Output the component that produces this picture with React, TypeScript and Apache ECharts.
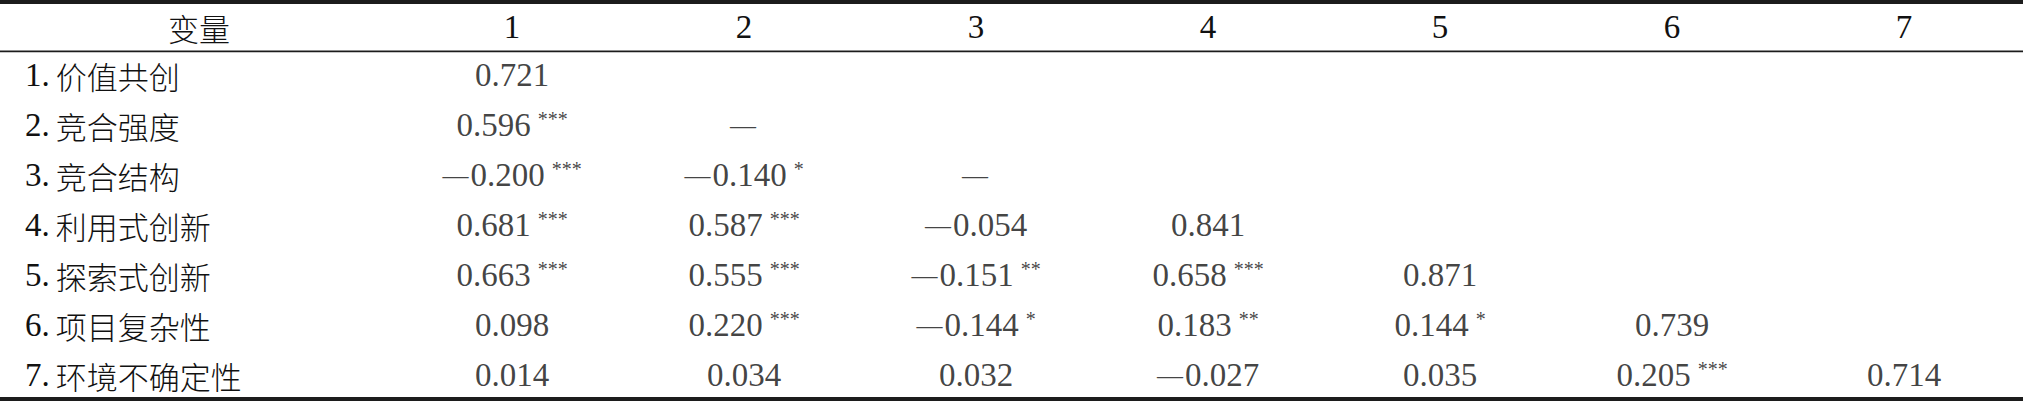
import { useEffect, useRef } from 'react';
import * as echarts from 'echarts';

const columns = ['1', '2', '3', '4', '5', '6', '7'];
const variables = ['价值共创', '竞合强度', '竞合结构', '利用式创新', '探索式创新', '项目复杂性', '环境不确定性'];

// correlation matrix, lower triangle (null = no value shown, drawn as a dash)
const row1 = [0.721];
const row2 = [0.596, null];
const row3 = [-0.2, -0.14, null];
const row4 = [0.681, 0.587, -0.054, 0.841];
const row5 = [0.663, 0.555, -0.151, 0.658, 0.871];
const row6 = [0.098, 0.22, -0.144, 0.183, 0.144, 0.739];
const row7 = [0.014, 0.034, 0.032, -0.027, 0.035, 0.205, 0.714];

// significance marks
const sig1 = [''];
const sig2 = ['***', ''];
const sig3 = ['***', '*', ''];
const sig4 = ['***', '***', '', ''];
const sig5 = ['***', '***', '**', '***', ''];
const sig6 = ['', '***', '*', '**', '*', ''];
const sig7 = ['', '', '', '', '', '***', ''];

const rows = [row1, row2, row3, row4, row5, row6, row7];
const sigs = [sig1, sig2, sig3, sig4, sig5, sig6, sig7];

const NUM_FONT = '"Liberation Serif", "DejaVu Serif", serif';
const CJK_FONT = '"Noto Sans CJK SC", sans-serif';
const INK = '#111';

const fmt = (v: number | null) => {
  if (v === null) return '{d|—}';
  if (v < 0) return `{d|—}{n|${Math.abs(v).toFixed(3)}}`;
  return `{n|${v.toFixed(3)}}`;
};

export default function App() {
  const chartRef = useRef<HTMLDivElement>(null);

  useEffect(() => {
    if (!chartRef.current) return;
    document.body.style.margin = '0';
    const chart = echarts.init(chartRef.current, null, { renderer: 'svg' });

    const cells: any[] = [];
    rows.forEach((r, ri) => {
      r.forEach((v, ci) => {
        cells.push({ value: [columns[ci], variables[ri]], v, s: sigs[ri][ci] });
      });
    });

    const W = 2023;

    chart.setOption({
      animation: false,
      grid: { left: 396, right: 3, top: 50, bottom: 1 },
      xAxis: {
        type: 'category',
        position: 'top',
        data: columns,
        axisLine: { show: false },
        axisTick: { show: false },
        splitLine: { show: false },
        axisLabel: {
          margin: 23,
          verticalAlign: 'middle',
          color: INK,
          fontFamily: NUM_FONT,
          fontSize: 33,
        },
      },
      yAxis: {
        type: 'category',
        inverse: true,
        data: variables,
        axisLine: { show: false },
        axisTick: { show: false },
        splitLine: { show: false },
        axisLabel: {
          align: 'left',
          margin: 371,
          formatter: (val: string, i: number) => `{n|${i + 1}.}{c|${val}}`,
          rich: {
            n: { fontFamily: NUM_FONT, fontSize: 33, color: INK, padding: [0, 6, 0, 0] },
            c: { fontFamily: CJK_FONT, fontSize: 31, fontWeight: 300, color: INK },
          },
        },
      },
      series: [
        {
          type: 'scatter',
          symbolSize: 1,
          itemStyle: { color: 'rgba(0,0,0,0)' },
          data: cells,
          label: {
            show: true,
            position: 'inside',
            align: 'center',
            verticalAlign: 'middle',
            formatter: (p: any) => fmt(p.data.v) + (p.data.s ? `{s|${p.data.s}}` : ''),
            rich: {
              n: { fontFamily: NUM_FONT, fontSize: 33, color: INK },
              d: { fontFamily: NUM_FONT, fontSize: 26, color: INK, padding: [0, 2, 0, 0] },
              s: {
                fontFamily: NUM_FONT,
                fontSize: 20,
                color: INK,
                verticalAlign: 'top',
                padding: [0, 0, 0, 7],
              },
            },
          },
        },
      ],
      graphic: [
        { type: 'rect', left: 0, top: 0, shape: { width: W, height: 4 }, style: { fill: '#1c1c1c' } },
        { type: 'rect', left: 0, top: 50.5, shape: { width: W, height: 1.8 }, style: { fill: '#1c1c1c' } },
        { type: 'rect', left: 0, top: 397, shape: { width: W, height: 4 }, style: { fill: '#1c1c1c' } },
        {
          type: 'text',
          x: 199,
          y: 27,
          style: {
            text: '变量',
            fontFamily: CJK_FONT,
            fontSize: 31,
            fontWeight: 300,
            fill: INK,
            align: 'center',
            verticalAlign: 'middle',
          },
        },
      ],
    });

    return () => {
      chart.dispose();
    };
  }, []);

  return <div ref={chartRef} style={{ width: 2023, height: 401 }} />;
}
